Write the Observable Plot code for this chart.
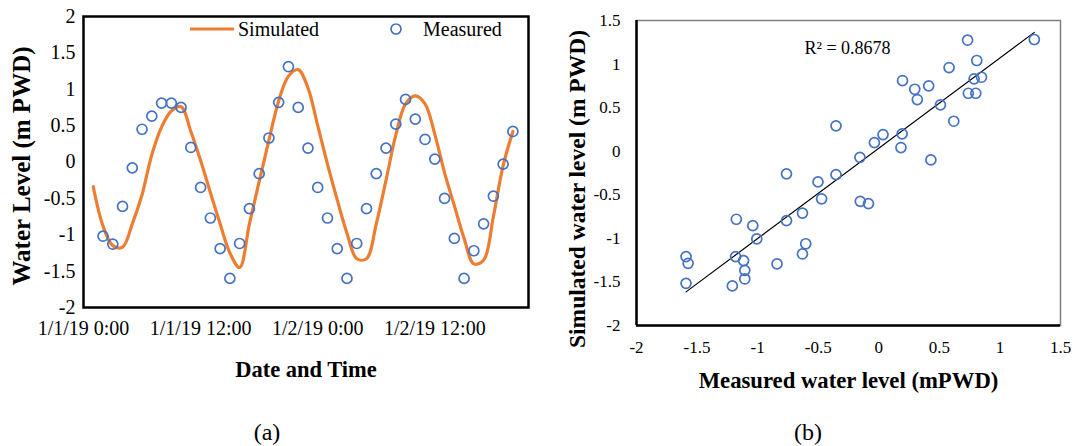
<!DOCTYPE html>
<html>
<head>
<meta charset="utf-8">
<script src="https://cdn.jsdelivr.net/npm/d3@7"></script>
<script src="https://cdn.jsdelivr.net/npm/@observablehq/plot@0.6"></script>
<style>
  html, body { margin: 0; padding: 0; background: #fff; }
  body { font-family: "Liberation Serif", "Times New Roman", serif; color: #000; }
  #wrap { position: relative; width: 1077px; height: 446px; overflow: hidden; background: #fff; }
  #pa { position: absolute; left: 0; top: 0; }
  #pb { position: absolute; left: 540px; top: 0; }
  .cap { position: absolute; top: 432px; font-size: 24px; transform: translate(-50%, -50%); white-space: nowrap; }
  .lg { position: absolute; font-size: 20px; line-height: 20px; white-space: nowrap; }
  .sw { position: absolute; }
</style>
</head>
<body>
<div id="wrap">
  <div id="pa"></div>
  <div id="pb"></div>
  <svg class="sw" style="left:188px;top:19px" width="48" height="20"><line x1="2" x2="46" y1="10" y2="10" stroke="#ED7D31" stroke-width="3"/></svg>
  <div class="lg" style="left:238px;top:19px">Simulated</div>
  <svg class="sw" style="left:386px;top:19px" width="20" height="20"><circle cx="10" cy="10" r="5" fill="none" stroke="#4472C4" stroke-width="1.7"/></svg>
  <div class="lg" style="left:423px;top:19px">Measured</div>
  <div class="cap" style="left:267px">(a)</div>
  <div class="cap" style="left:808px">(b)</div>
</div>
<script>
const FONT = '"Liberation Serif", "Times New Roman", serif';

// ---------- Panel (a): time series ----------
// hours since 1/1/19 0:00
const simHours = [1,2,3,4,5,6,7,8,9,10,11,12,13,14,15,16,17,18,19,20,21,22,23,24,25,26,27,28,29,30,31,32,33,34,35,36,37,38,39,40,41,42,43,44];
const simulated = [-0.34,-0.88,-1.15,-1.17,-0.85,-0.45,0.10,0.48,0.70,0.76,0.42,0.02,-0.42,-0.85,-1.25,-1.45,-0.85,-0.27,0.30,0.84,1.18,1.27,1.02,0.50,-0.03,-0.52,-0.98,-1.33,-1.33,-0.85,-0.25,0.37,0.80,0.91,0.80,0.38,-0.15,-0.60,-1.05,-1.40,-1.35,-0.75,-0.05,0.42];
const measHours = [2,3,4,5,6,7,8,9,10,11,12,13,14,15,16,17,18,19,20,21,22,23,24,25,26,27,28,29,30,31,32,33,34,35,36,37,38,39,40,41,42,43,44];
const measured = [-1.02,-1.13,-0.61,-0.08,0.45,0.63,0.81,0.81,0.75,0.20,-0.35,-0.77,-1.19,-1.60,-1.12,-0.64,-0.16,0.33,0.82,1.31,0.75,0.19,-0.35,-0.77,-1.19,-1.60,-1.12,-0.64,-0.16,0.19,0.52,0.86,0.59,0.31,0.04,-0.50,-1.05,-1.60,-1.22,-0.85,-0.47,-0.03,0.42];
const xTickHours = [0, 12, 24, 36];
const xTickLabels = ["1/1/19 0:00", "1/1/19 12:00", "1/2/19 0:00", "1/2/19 12:00"];
const yTicksA = [-2, -1.5, -1, -0.5, 0, 0.5, 1, 1.5, 2];
const titleXA = "Date and Time";
const titleYA = "Water Level (m PWD)";

// ---------- Panel (b): scatter ----------
const scatMeasured = [0.733,1.284,0.809,0.580,0.787,0.848,0.196,0.297,0.412,0.318,0.739,0.801,0.509,0.619,-0.353,0.035,-0.036,0.193,0.183,-0.156,0.430,-0.762,-0.353,-0.502,-0.472,-0.153,-0.085,-0.630,-0.762,-1.176,-1.040,-1.007,-0.603,-0.630,-1.591,-1.574,-1.591,-1.182,-1.116,-1.106,-1.106,-0.840,-1.209];
const scatSimulated = [1.274,1.282,1.041,0.960,0.831,0.849,0.811,0.711,0.750,0.593,0.665,0.665,0.532,0.344,0.291,0.191,0.099,0.199,0.042,-0.070,-0.100,-0.260,-0.268,-0.352,-0.546,-0.575,-0.601,-0.710,-0.796,-0.781,-0.854,-1.006,-1.062,-1.179,-1.209,-1.286,-1.516,-1.209,-1.255,-1.367,-1.466,-1.293,-1.546];
const ticksB = [-2, -1.5, -1, -0.5, 0, 0.5, 1, 1.5];
const r2Label = "R\u00B2 = 0.8678";
const titleXB = "Measured water level (mPWD)";
const titleYB = "Simulated water level (m PWD)";

const simData = simHours.map((h, i) => ({h, v: simulated[i]}));
const measData = measHours.map((h, i) => ({h, v: measured[i]}));
const scatData = scatMeasured.map((m, i) => ({m, s: scatSimulated[i]}));
const fmt = d => String(d);

const plotA = Plot.plot({
  width: 540, height: 400,
  marginLeft: 83, marginRight: 12, marginTop: 16, marginBottom: 93,
  style: {fontFamily: FONT, fontSize: "20px", color: "#000", background: "transparent"},
  x: {domain: [0, 45.6]},
  y: {domain: [-2, 2]},
  marks: [
    Plot.axisX(xTickHours, {tickSize: 0, tickPadding: 13, tickFormat: d => xTickLabels[xTickHours.indexOf(d)], label: null, fontSize: 20}),
    Plot.axisY(yTicksA, {tickSize: 0, tickPadding: 8, tickFormat: fmt, label: null, fontSize: 20}),
    Plot.frame({stroke: "#000", strokeWidth: 2.5}),
    Plot.line(simData, {x: "h", y: "v", stroke: "#ED7D31", strokeWidth: 3.2, curve: "catmull-rom"}),
    Plot.dot(measData, {x: "h", y: "v", r: 5, stroke: "#4472C4", strokeWidth: 1.7, fill: "none"}),
    Plot.text([titleXA], {text: d => d, frameAnchor: "bottom", dy: 62, lineAnchor: "middle", fontWeight: "bold", fontSize: 22.5}),
    Plot.text([titleYA], {text: d => d, frameAnchor: "left", dx: -62, dy: 4, rotate: -90, textAnchor: "middle", lineAnchor: "middle", fontWeight: "bold", fontSize: 25})
  ]
});
document.getElementById("pa").appendChild(plotA);

const plotB = Plot.plot({
  width: 537, height: 400,
  marginLeft: 96, marginRight: 17, marginTop: 20, marginBottom: 75,
  style: {fontFamily: FONT, fontSize: "17px", color: "#000", background: "transparent"},
  x: {domain: [-2, 1.5]},
  y: {domain: [-2, 1.5]},
  marks: [
    Plot.axisX(ticksB, {tickSize: 0, tickPadding: 15, tickFormat: fmt, label: null, fontSize: 17}),
    Plot.axisY(ticksB, {tickSize: 0, tickPadding: 16, tickFormat: fmt, label: null, fontSize: 17}),
    Plot.frame({stroke: "#7f7f7f", strokeWidth: 1.5}),
    Plot.ruleX([-2], {stroke: "#000", strokeWidth: 2.5}),
    Plot.ruleY([-2], {stroke: "#000", strokeWidth: 2.5}),
    Plot.linearRegressionY(scatData, {x: "m", y: "s", stroke: "#000", strokeWidth: 1.2, ci: 0}),
    Plot.dot(scatData, {x: "m", y: "s", r: 5, stroke: "#4472C4", strokeWidth: 1.7, fill: "none"}),
    Plot.text([r2Label], {text: d => d, frameAnchor: "top-left", dx: 168, dy: 28, textAnchor: "start", lineAnchor: "middle", fontSize: 18}),
    Plot.text([titleXB], {text: d => d, frameAnchor: "bottom", dy: 55, lineAnchor: "middle", fontWeight: "bold", fontSize: 22.7}),
    Plot.text([titleYB], {text: d => d, frameAnchor: "left", dx: -59, dy: 16, rotate: -90, textAnchor: "middle", lineAnchor: "middle", fontWeight: "bold", fontSize: 23.5})
  ]
});
document.getElementById("pb").appendChild(plotB);
</script>
</body>
</html>
